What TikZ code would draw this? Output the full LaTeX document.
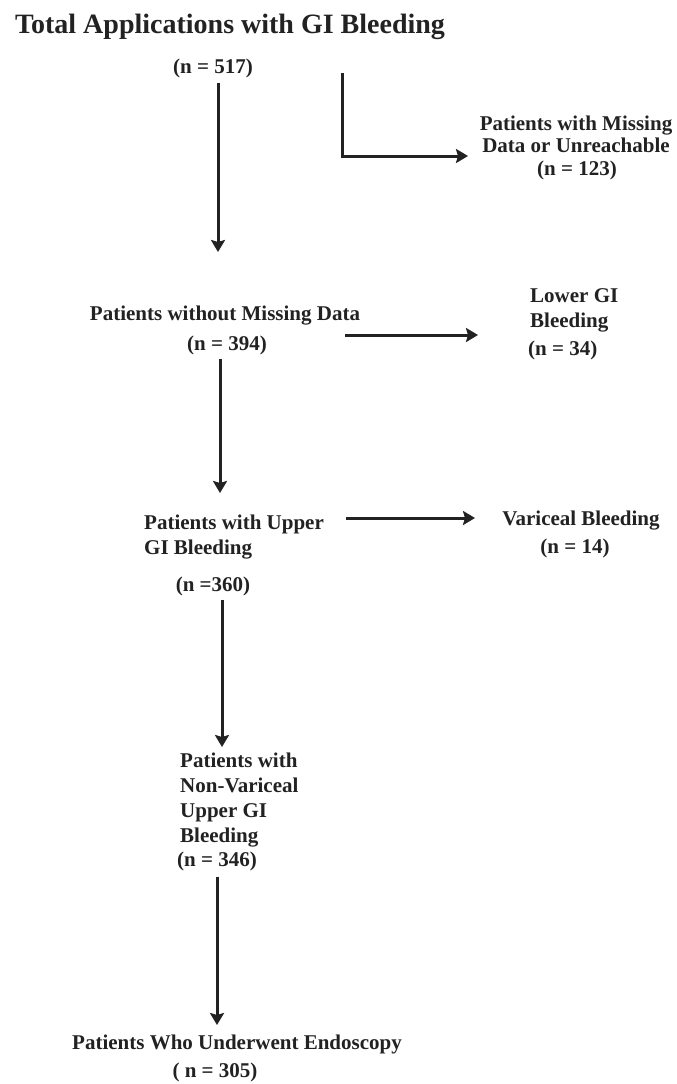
\documentclass[tikz,border=0pt]{standalone}
\usepackage{fontspec}
\setmainfont{Liberation Serif}
\usepackage{tikz}
\usetikzlibrary{arrows.meta}
\definecolor{inkgray}{RGB}{34, 34, 34}

\begin{document}
\begin{tikzpicture}[x=1pt, y=-1pt,
  lbl/.style={inner sep=0pt, text=inkgray, font=\fontsize{21}{25}\selectfont\bfseries},
  flow/.style={-{Stealth[length=12pt, width=14pt, inset=2pt]}, line width=3pt, inkgray}]
% Page with reference margins
\fill[white] (0,0) rectangle (677,1084);

% Boxes of the main column
\node[lbl, anchor=base, font=\fontsize{28}{30}\selectfont\bfseries] (total) at (230,33) {Total Applications with GI Bleeding};
\node[lbl, anchor=base] (n517) at (213,73) {(n = 517)};
\node[lbl, anchor=base] (nomiss) at (225,320) {Patients without Missing Data};
\node[lbl, anchor=base] (n394) at (227,350) {(n = 394)};
\node[lbl, anchor=base west, align=left] (upper) at (144,554) {Patients with Upper\\GI Bleeding};
\node[lbl, anchor=base] (n360) at (213,591) {(n =360)};
\node[lbl, anchor=base west, align=left] (nonvar) at (180,842) {Patients with\\Non-Variceal\\Upper GI\\Bleeding};
\node[lbl, anchor=base] (n346) at (217,866) {(n = 346)};
\node[lbl, anchor=base] (endo) at (237,1049) {Patients Who Underwent Endoscopy};
\node[lbl, anchor=base] (n305) at (215,1077) {( n = 305)};

% Excluded boxes on the right
\node[lbl, anchor=base, align=center, font=\fontsize{21}{22}\selectfont\bfseries] (missing) at (576,152) {Patients with Missing\\Data or Unreachable};
\node[lbl, anchor=base] (n123) at (577,175) {(n = 123)};
\node[lbl, anchor=base west, align=left] (lower) at (530,327) {Lower GI\\Bleeding};
\node[lbl, anchor=base west] (n34) at (528,355) {(n = 34)};
\node[lbl, anchor=base] (varic) at (581,525) {Variceal Bleeding};
\node[lbl, anchor=base] (n14) at (575,553) {(n = 14)};

% Arrow ends
\coordinate (c1) at (218,252);
\coordinate (c3) at (220,493);
\coordinate (c5) at (222,747);
\coordinate (c6) at (217,1025);
\coordinate (lstart) at (342,73);
\coordinate (lend) at (468,156);
\coordinate (c2a) at (345,335);
\coordinate (c2b) at (478,335);
\coordinate (c4a) at (346,518);
\coordinate (c4b) at (475,518);

% Connectors
\draw[flow] (n517.south -| c1) ++(0,5) -- (c1);
\draw[flow] (lstart) |- (lend);
\draw[flow] (c2a) -- (c2b);
\draw[flow] (n394.south -| c3) ++(0,4) -- (c3);
\draw[flow] (c4a) -- (c4b);
\draw[flow] (n360.south -| c5) ++(0,4) -- (c5);
\draw[flow] (n346.south -| c6) ++(0,6) -- (c6);
\end{tikzpicture}
\end{document}
